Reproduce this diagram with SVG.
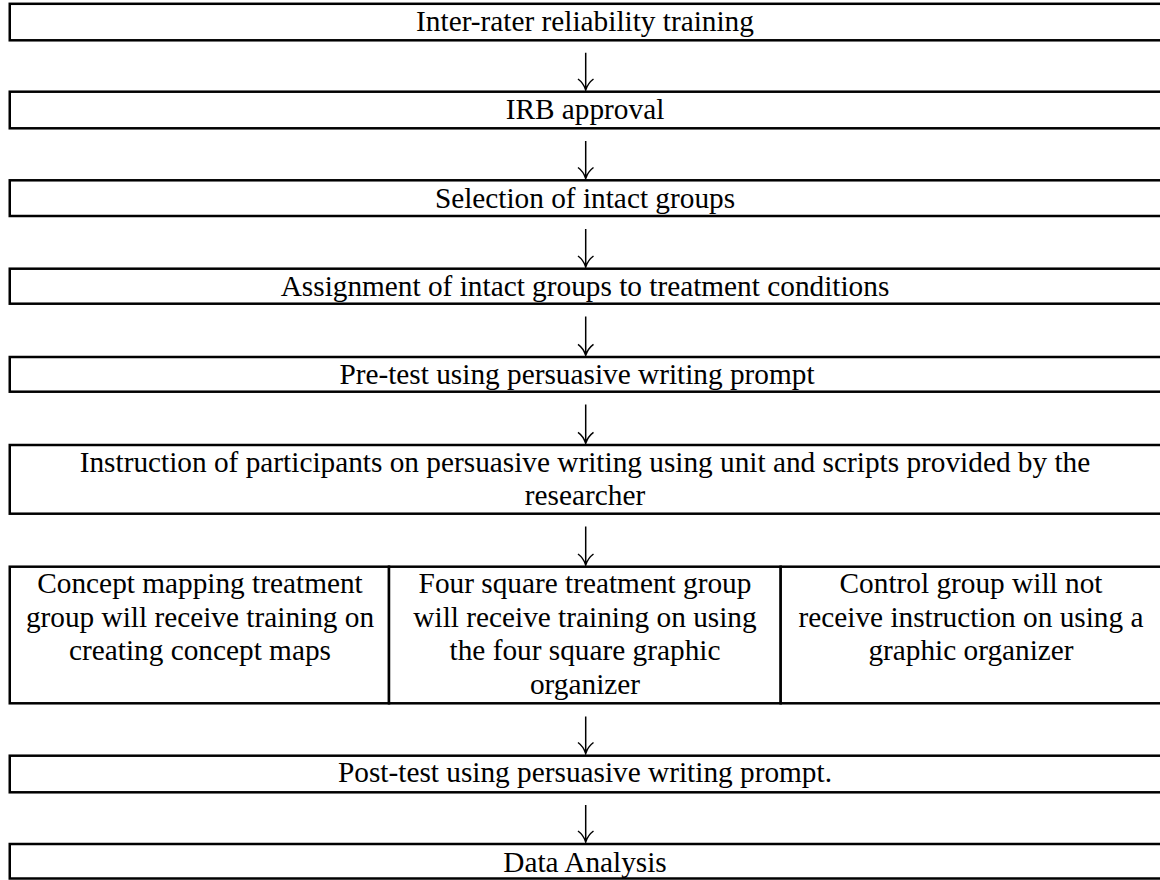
<svg xmlns="http://www.w3.org/2000/svg" width="1160" height="880" viewBox="0 0 1160 880">
<style>
.box{fill:#fff;stroke:#000;stroke-width:2.5}
.t{font-family:"Liberation Serif","Times New Roman",serif;font-size:29.3px;fill:#000;text-anchor:middle}
.arr{fill:none;stroke:#000;stroke-width:1.5}
</style>
<rect width="1160" height="880" fill="#fff"/>
<g id="n1"><rect class="box" x="9.75" y="3.8" width="1152" height="36.5"/><text class="t" x="585" y="31">Inter-rater reliability training</text></g>
<g id="n2"><rect class="box" x="9.75" y="91.7" width="1152" height="36.6"/><text class="t" x="585" y="119">IRB approval</text></g>
<g id="n3"><rect class="box" x="9.75" y="180.3" width="1152" height="35.7"/><text class="t" x="585" y="207.5">Selection of intact groups</text></g>
<g id="n4"><rect class="box" x="9.75" y="268.7" width="1152" height="35"/><text class="t" x="585" y="295.5">Assignment of intact groups to treatment conditions</text></g>
<g id="n5"><rect class="box" x="9.75" y="357" width="1152" height="34.7"/><text class="t" x="577" y="384">Pre-test using persuasive writing prompt</text></g>
<g id="n6"><rect class="box" x="9.75" y="445" width="1152" height="68.7"/><text class="t" x="585" y="471.7">Instruction of participants on persuasive writing using unit and scripts provided by the</text><text class="t" x="585" y="505.4">researcher</text></g>
<g id="n7a"><rect class="box" x="9.75" y="566.7" width="379.25" height="136.6"/><text class="t" x="200" y="593">Concept mapping treatment</text><text class="t" x="200" y="626.7">group will receive training on</text><text class="t" x="200" y="660.4">creating concept maps</text></g>
<g id="n7b"><rect class="box" x="389" y="566.7" width="391.7" height="136.6"/><text class="t" x="585" y="593">Four square treatment group</text><text class="t" x="585" y="626.7">will receive training on using</text><text class="t" x="585" y="660.4">the four square graphic</text><text class="t" x="585" y="694.1">organizer</text></g>
<g id="n7c"><rect class="box" x="780.7" y="566.7" width="381" height="136.6"/><text class="t" x="971" y="593">Control group will not</text><text class="t" x="971" y="626.7">receive instruction on using a</text><text class="t" x="971" y="660.4">graphic organizer</text></g>
<g id="n8"><rect class="box" x="9.75" y="755.7" width="1152" height="36.6"/><text class="t" x="585" y="782">Post-test using persuasive writing prompt.</text></g>
<g id="n9"><rect class="box" x="9.75" y="844" width="1152" height="34.5"/><text class="t" x="585" y="871.7">Data Analysis</text></g>
<g id="connectors">
<path class="arr" d="M585.7,52.7V90M578,79Q583.5,83 585.7,90Q588,83 593.5,79"/>
<path class="arr" d="M585.7,141V178.5M578,167.5Q583.5,171.5 585.7,178.5Q588,171.5 593.5,167.5"/>
<path class="arr" d="M585.7,229V267M578,256Q583.5,260 585.7,267Q588,260 593.5,256"/>
<path class="arr" d="M585.7,316.5V355.3M578,344.3Q583.5,348.3 585.7,355.3Q588,348.3 593.5,344.3"/>
<path class="arr" d="M585.7,404.5V443.3M578,432.3Q583.5,436.3 585.7,443.3Q588,436.3 593.5,432.3"/>
<path class="arr" d="M585.7,526.5V565M578,554Q583.5,558 585.7,565Q588,558 593.5,554"/>
<path class="arr" d="M585.7,716.5V753.5M578,742.5Q583.5,746.5 585.7,753.5Q588,746.5 593.5,742.5"/>
<path class="arr" d="M585.7,805V842M578,831Q583.5,835 585.7,842Q588,835 593.5,831"/>
</g>
</svg>
